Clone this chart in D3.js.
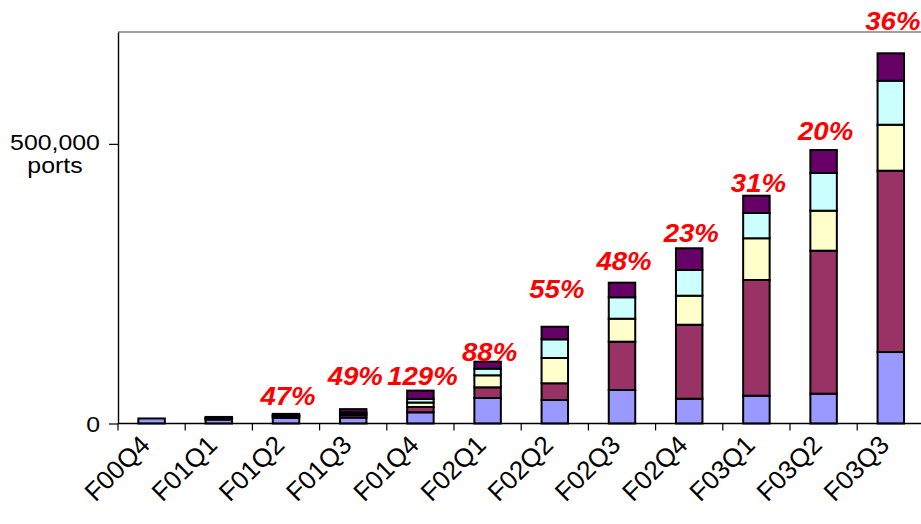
<!DOCTYPE html>
<html>
<head>
<meta charset="utf-8">
<script src="https://cdn.jsdelivr.net/npm/d3@7"></script>
<style>
  body { margin: 0; background: #ffffff; }
  svg { display: block; }
  text { font-family: "Liberation Sans", Arial, sans-serif; }
</style>
</head>
<body>
<svg id="chart" width="921" height="524"></svg>
<script>
// Quarterly installed ports, stacked by product tier (bottom to top)
const categories = ["F00Q4", "F01Q1", "F01Q2", "F01Q3", "F01Q4", "F02Q1",
                    "F02Q2", "F02Q3", "F02Q4", "F03Q1", "F03Q2", "F03Q3"];
const tier1 = [9000, 7000, 10000, 10500, 20000, 45600, 42000, 59900, 44300, 49700, 53300, 127800];
const tier2 = [0, 1500, 2500, 4500, 9500, 19100, 29900, 86400, 132300, 206900, 255700, 324200];
const tier3 = [0, 800, 1200, 2500, 8000, 21500, 45200, 41100, 51900, 74600, 71500, 82200];
const tier4 = [0, 800, 1200, 2500, 6500, 11800, 33400, 38300, 46000, 45200, 67400, 78700];
const tier5 = [0, 1600, 2300, 5700, 14800, 12500, 22500, 26100, 38800, 30900, 41100, 49000];

// Quarter-over-quarter growth callouts and the port level each one sits at
const growthLabels = ["", "", "47%", "49%", "129%", "88%", "55%", "48%", "23%", "31%", "20%", "36%"];
const growthLabelAt = [0, 0, 33000, 69000, 69000, 112000, 225000, 274500, 324000, 413400, 507000, 703600];

const yTicks = [0, 500000];
const yTickLabels = ["0", "500,000"];
const yUnit = "ports";

const tierColors = ["#9999FF", "#993366", "#FFFFCC", "#CCFFFF", "#660066"];

(function draw() {
  const svg = d3.select("#chart");
  const plotLeft = 118, plotRight = 924.4, plotTop = 32, plotBottom = 423.5;
  const wide = "scale(1.13,1)";   // slightly widened lettering

  const x = d3.scaleBand()
    .domain(categories)
    .range([plotLeft, plotRight])
    .paddingInner(0.606)
    .paddingOuter(0.303);

  const y = d3.scaleLinear()
    .domain([0, 700000])
    .range([plotBottom, plotTop]);

  const rows = categories.map((c, i) => ({
    cat: c, t1: tier1[i], t2: tier2[i], t3: tier3[i], t4: tier4[i], t5: tier5[i]
  }));
  const layers = d3.stack().keys(["t1", "t2", "t3", "t4", "t5"])(rows);

  // plot area top edge
  svg.append("line")
    .attr("x1", plotLeft).attr("x2", 921)
    .attr("y1", plotTop).attr("y2", plotTop)
    .attr("stroke", "#808080").attr("stroke-width", 1.6);

  // stacked bars
  svg.append("g").selectAll("g")
    .data(layers)
    .join("g")
    .attr("fill", (d, i) => tierColors[i])
    .selectAll("rect")
    .data(d => d.filter(s => s[1] - s[0] > 0))
    .join("rect")
    .attr("x", d => x(d.data.cat))
    .attr("width", x.bandwidth())
    .attr("y", d => y(d[1]))
    .attr("height", d => y(d[0]) - y(d[1]))
    .attr("stroke", "#000")
    .attr("stroke-width", 2);

  // value axis
  const yAxis = svg.append("g")
    .attr("transform", `translate(${plotLeft},0)`)
    .call(d3.axisLeft(y).tickValues(yTicks).tickSize(9).tickSizeOuter(0).tickFormat(""));
  yAxis.select(".domain").attr("stroke", "#000").attr("stroke-width", 1.4);
  yAxis.selectAll(".tick line").attr("stroke", "#000").attr("stroke-width", 1.2);

  svg.append("text")
    .attr("transform", `translate(100,${y(yTicks[0]) + 8}) ${wide}`)
    .attr("text-anchor", "end")
    .attr("font-size", 22)
    .text(yTickLabels[0]);
  svg.append("text")
    .attr("transform", `translate(55,${y(yTicks[1]) + 6}) ${wide}`)
    .attr("text-anchor", "middle")
    .attr("font-size", 22)
    .text(yTickLabels[1]);
  svg.append("text")
    .attr("transform", `translate(55,${y(yTicks[1]) + 29}) ${wide}`)
    .attr("text-anchor", "middle")
    .attr("font-size", 22)
    .text(yUnit);

  // category axis: baseline with ticks on the band boundaries
  const step = x.step();
  svg.append("line")
    .attr("x1", plotLeft).attr("x2", 921)
    .attr("y1", plotBottom).attr("y2", plotBottom)
    .attr("stroke", "#000").attr("stroke-width", 1.4);
  svg.append("g").selectAll("line")
    .data(d3.range(categories.length + 1))
    .join("line")
    .attr("x1", i => plotLeft + i * step).attr("x2", i => plotLeft + i * step)
    .attr("y1", plotBottom).attr("y2", plotBottom + 7)
    .attr("stroke", "#000").attr("stroke-width", 1.2);

  svg.append("g").selectAll("text")
    .data(categories)
    .join("text")
    .attr("text-anchor", "end")
    .attr("font-size", 26)
    .attr("transform", d => `translate(${x(d) + x.bandwidth() / 2},${plotBottom + 23}) rotate(-45)`)
    .text(d => d);

  // growth callouts
  svg.append("g").selectAll("text")
    .data(categories.map((c, i) => ({ cat: c, label: growthLabels[i], at: growthLabelAt[i] }))
      .filter(d => d.label))
    .join("text")
    .attr("transform", d => `translate(${x(d.cat) + x.bandwidth() / 2 + 2},${y(d.at)}) scale(1.06,1)`)
    .attr("text-anchor", "middle")
    .attr("font-size", 26)
    .attr("font-weight", "bold")
    .attr("font-style", "italic")
    .attr("fill", "#FF0000")
    .text(d => d.label);
})();
</script>
</body>
</html>
